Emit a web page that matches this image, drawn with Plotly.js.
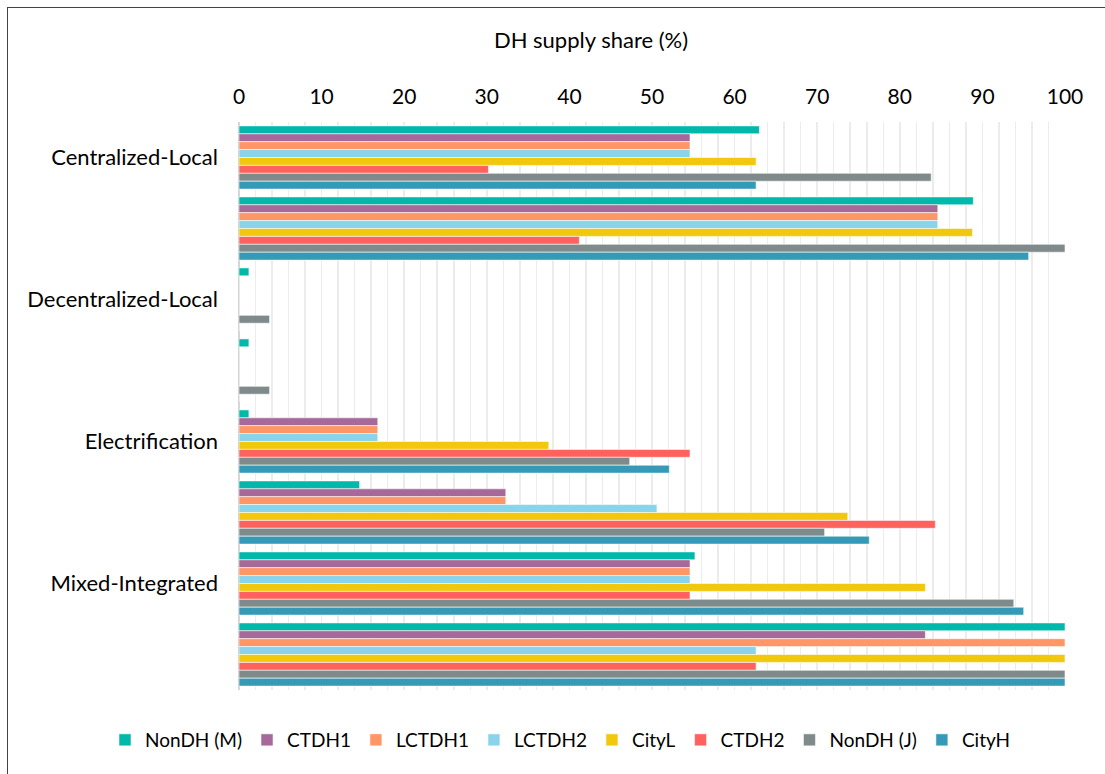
<!DOCTYPE html>
<html>
<head>
<meta charset="utf-8">
<script src="https://cdn.plot.ly/plotly-3.0.1.min.js"></script>
<style>
  html, body { margin: 0; padding: 0; background: #ffffff; }
  #frame { position: absolute; left: 7px; top: 7px; width: 1200px; height: 900px;
           border-top: 1.5px solid #444; border-left: 1.5px solid #444; box-sizing: border-box; }
  #chart { position: absolute; left: 0; top: 0; width: 1105px; height: 774px; }
</style>
</head>
<body>
<div id="frame"></div>
<div id="chart"></div>
<script>
// Row labels (top to bottom); unlabeled rows are second sub-rows of each scenario
const rowLabels = ['Centralized-Local', '', 'Decentralized-Local', '', 'Electrification', '', 'Mixed-Integrated', ''];

const seriesNames = ['NonDH (M)', 'CTDH1', 'LCTDH1', 'LCTDH2', 'CityL', 'CTDH2', 'NonDH (J)', 'CityH'];
const seriesColors = ['#01B8AA', '#A66999', '#FE9666', '#8AD4EB', '#F2C80F', '#FD625E', '#7F8B8B', '#3599B8'];

// DH supply share (%) per row, for each series
const nonDHM  = [63.0, 88.9, 1.2, 1.2, 1.2, 14.6, 55.2, 100];
const ctdh1   = [54.6, 84.6, 0, 0, 16.8, 32.3, 54.6, 83.1];
const lctdh1  = [54.6, 84.6, 0, 0, 16.8, 32.3, 54.6, 100];
const lctdh2  = [54.6, 84.6, 0, 0, 16.8, 50.6, 54.6, 62.6];
const cityL   = [62.6, 88.8, 0, 0, 37.5, 73.7, 83.1, 100];
const ctdh2   = [30.2, 41.2, 0, 0, 54.6, 84.3, 54.6, 62.6];
const nonDHJ  = [83.8, 100, 3.7, 3.7, 47.3, 70.9, 93.8, 100];
const cityH   = [62.6, 95.6, 0, 0, 52.1, 76.3, 95.0, 100];

const seriesValues = [nonDHM, ctdh1, lctdh1, lctdh2, cityL, ctdh2, nonDHJ, cityH];

const xTicks = [0, 10, 20, 30, 40, 50, 60, 70, 80, 90, 100];

const rows = rowLabels.map((_, i) => i);

const traces = seriesNames.map((name, k) => ({
  type: 'bar',
  orientation: 'h',
  name: name,
  y: rows,
  x: seriesValues[k],
  marker: { color: seriesColors[k], line: { color: 'rgba(255,255,255,0.55)', width: 1 } },
  hoverinfo: 'x+name'
}));

const FONT = 'Lato, "Open Sans", "DejaVu Sans", sans-serif';

const layout = {
  width: 1105,
  height: 774,
  paper_bgcolor: 'rgba(0,0,0,0)',
  plot_bgcolor: 'rgba(0,0,0,0)',
  margin: { l: 239, r: 40, t: 122, b: 84 },
  barmode: 'group',
  bargap: 0.11,
  bargroupgap: 0,
  font: { family: FONT, color: '#000000' },
  title: {
    text: 'DH supply share (%)',
    font: { family: FONT, size: 22, color: '#000' },
    x: 591 / 1105, xref: 'container', xanchor: 'center',
    y: 1 - 40 / 774, yref: 'container', yanchor: 'middle'
  },
  xaxis: {
    side: 'top',
    range: [0, 100],
    tickvals: xTicks,
    ticktext: xTicks.map(String),
    tickfont: { family: FONT, size: 21, color: '#000' },
    ticks: '',
    ticklabelstandoff: 13,
    showgrid: true,
    gridcolor: '#ececec',
    gridwidth: 1.5,
    minor: { dtick: 2, showgrid: true, gridcolor: '#ececec', gridwidth: 1.5, ticks: '' },
    zeroline: true,
    zerolinecolor: '#d6d6d6',
    zerolinewidth: 2,
    showline: false,
    fixedrange: true
  },
  yaxis: {
    range: [7.5, -0.5],
    tickvals: rows,
    ticktext: rowLabels,
    tickfont: { family: FONT, size: 22, color: '#000' },
    ticks: '',
    ticklabelstandoff: 20,
    showgrid: false,
    zeroline: false,
    showline: false,
    fixedrange: true
  },
  legend: {
    orientation: 'h',
    xref: 'paper', x: (105 - 239) / 826, xanchor: 'left',
    yref: 'paper', y: -50 / 568, yanchor: 'middle',
    font: { family: FONT, size: 19, color: '#000' },
    itemwidth: 30,
    traceorder: 'normal',
    bgcolor: 'rgba(0,0,0,0)'
  },
  showlegend: true
};

Plotly.newPlot('chart', traces, layout, { displayModeBar: false, staticPlot: true });
</script>
</body>
</html>
